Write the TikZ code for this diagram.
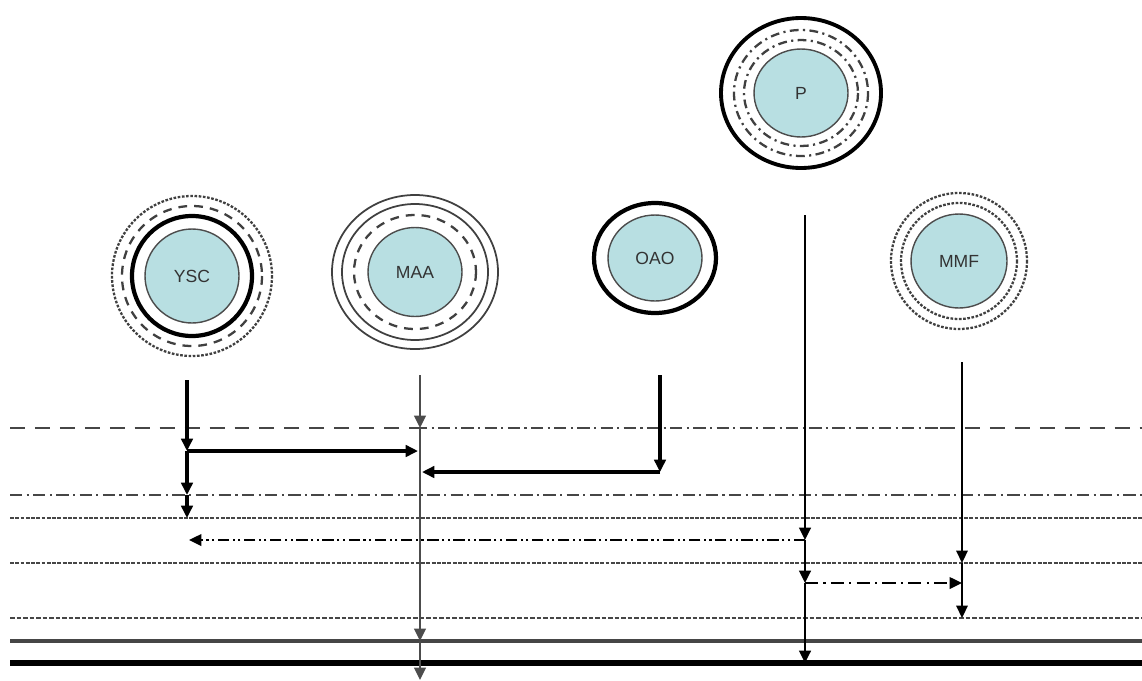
\documentclass[tikz,border=0pt]{standalone}
\usepackage{fontspec}
\setmainfont{Liberation Sans}
\usepackage{xcolor}
\usetikzlibrary{arrows.meta}
\usetikzlibrary{shapes.geometric}

\definecolor{cellblue}{RGB}{184,223,226}
\definecolor{levelgray}{RGB}{70,70,70}

\tikzset{
  >={Triangle[length=7pt,width=6.5pt]},
  cellcore/.style={ellipse, draw=black!70, line width=0.8pt, fill=cellblue, inner sep=0pt, font=\fontsize{10}{12}\selectfont, text=black!80},
  ringthick/.style={draw=black, line width=2.4pt},
  ringthin/.style={draw=black!75, line width=1pt},
  ringdash/.style={draw=black!75, line width=1.3pt, dash pattern=on 5pt off 4pt},
  ringdot/.style={draw=black!75, line width=1.3pt, dash pattern=on 1.5pt off 0.9pt},
  ringdashdot/.style={draw=black!75, line width=1.3pt, dash pattern=on 5pt off 2.5pt on 1.2pt off 2.5pt},
  levelline/.style={draw=levelgray, line width=1.3pt},
  leveldash/.style={levelline, dash pattern=on 8.5pt off 5.7pt},
  leveldashdot/.style={levelline, dash pattern=on 7pt off 2.5pt on 1.2pt off 2.5pt},
  levelfine/.style={levelline, dash pattern=on 2.2pt off 0.8pt},
  flowline/.style={->, draw=black},
}

\begin{document}
\begin{tikzpicture}[x=0.02cm,y=-0.02cm]
        \newcommand{\figsigleft}{10}
        \newcommand{\figsigright}{1142}
        \newcommand{\figsigyscx}{187}
        \newcommand{\figsigmaax}{420}
        \newcommand{\figsigoaox}{660}
        \newcommand{\figsigpcx}{805}
        \newcommand{\figsigmmfx}{962}
        \newcommand{\figsiglevela}{428}
        \newcommand{\figsiglevelb}{495}
        \newcommand{\figsiglevelc}{518}
        \newcommand{\figsigleveld}{563}
        \newcommand{\figsiglevele}{618}
        \newcommand{\figsiglevelf}{641}
        \newcommand{\figsiglevelg}{663}
        \useasboundingbox (0,0) rectangle (1142,680);
        % cells
        \node[cellcore, minimum width=1.88cm, minimum height=1.88cm] (ysc) at (192,276) {YSC};
        \draw[ringthick] (ysc) circle (60);
        \draw[ringdash] (ysc) circle (70);
        \draw[ringdot] (ysc) circle (80);
        \node[cellcore, minimum width=1.88cm, minimum height=1.78cm] (maa) at (415,272) {MAA};
        \draw[ringdash] (maa) ellipse (61 and 57);
        \draw[ringthin] (maa) ellipse (73 and 68);
        \draw[ringthin] (maa) ellipse (83 and 77);
        \node[cellcore, minimum width=1.88cm, minimum height=1.72cm] (oao) at (655,258) {OAO};
        \draw[ringthick] (oao) ellipse (61 and 55);
        \node[cellcore, minimum width=1.88cm, minimum height=1.76cm] (pcell) at (801,93) {P};
        \draw[ringdashdot] (pcell) ellipse (57 and 53);
        \draw[ringdashdot] (pcell) ellipse (67 and 63);
        \draw[ringthick, line width=2.2pt] (pcell) ellipse (80 and 75);
        \node[cellcore, minimum width=1.92cm, minimum height=1.88cm] (mmf) at (959,261) {MMF};
        \draw[ringdot] (mmf) circle (58);
        \draw[ringdot] (mmf) circle (68);
        % levels
        \coordinate (lvlaw) at (\figsigleft,\figsiglevela);
        \coordinate (lvlam) at (415,\figsiglevela);
        \coordinate (lvlan) at (940,\figsiglevela);
        \coordinate (lvlae) at (\figsigright,\figsiglevela);
        \draw[leveldash] (lvlaw) -- (lvlam);
        \draw[leveldashdot] (lvlam) -- (lvlan);
        \draw[leveldash] (lvlan) -- (lvlae);
        \coordinate (lvlbw) at (\figsigleft,\figsiglevelb);
        \coordinate (lvlbe) at (\figsigright,\figsiglevelb);
        \draw[leveldashdot] (lvlbw) -- (lvlbe);
        \coordinate (lvlcw) at (\figsigleft,\figsiglevelc);
        \coordinate (lvlce) at (\figsigright,\figsiglevelc);
        \draw[levelfine] (lvlcw) -- (lvlce);
        \coordinate (lvldw) at (\figsigleft,\figsigleveld);
        \coordinate (lvlde) at (\figsigright,\figsigleveld);
        \draw[levelfine] (lvldw) -- (lvlde);
        \coordinate (lvlew) at (\figsigleft,\figsiglevele);
        \coordinate (lvlee) at (\figsigright,\figsiglevele);
        \draw[levelfine, dash pattern=on 2.6pt off 1.1pt] (lvlew) -- (lvlee);
        \coordinate (lvlfw) at (\figsigleft,\figsiglevelf);
        \coordinate (lvlfe) at (\figsigright,\figsiglevelf);
        \draw[levelline, line width=1.8pt] (lvlfw) -- (lvlfe);
        \coordinate (lvlgw) at (\figsigleft,\figsiglevelg);
        \coordinate (lvlge) at (\figsigright,\figsiglevelg);
        \draw[draw=black, line width=3pt] (lvlgw) -- (lvlge);
        % YSC flow
        \coordinate (yscs) at (\figsigyscx,380);
        \coordinate (ysca) at (\figsigyscx,451);
        \coordinate (yscb) at (\figsigyscx,\figsiglevelb);
        \coordinate (yscc) at (\figsigyscx,\figsiglevelc);
        \draw[flowline, line width=1.8pt] (yscs) -- (ysca);
        \draw[flowline, line width=1.8pt] (ysca) -- (yscb);
        \draw[flowline, line width=1.8pt] (yscb) -- (yscc);
        \coordinate (maajoin) at (\figsigmaax-2,451);
        \draw[flowline, line width=2.4pt] (ysca) -- (maajoin);
        % MAA flow
        \coordinate (maas) at (\figsigmaax,375);
        \coordinate (maaa) at (\figsigmaax,\figsiglevela);
        \coordinate (maaf) at (\figsigmaax,\figsiglevelf);
        \coordinate (maaend) at (\figsigmaax,680);
        \draw[flowline, draw=black!70, line width=1.4pt] (maas) -- (maaa);
        \draw[flowline, draw=black!70, line width=1.4pt] (maaa) -- (maaf);
        \draw[flowline, draw=black!70, line width=1.4pt] (maaf) -- (maaend);
        % OAO flow
        \coordinate (oaos) at (\figsigoaox,375);
        \coordinate (oaoa) at (\figsigoaox,472);
        \coordinate (oaojoin) at (\figsigmaax+2,472);
        \draw[flowline, line width=1.8pt] (oaos) -- (oaoa);
        \draw[flowline, line width=2.2pt] (oaoa) -- (oaojoin);
        % P flow
        \coordinate (pcs) at (\figsigpcx,215);
        \coordinate (pca) at (\figsigpcx,540);
        \coordinate (pcb) at (\figsigpcx,583);
        \coordinate (pcg) at (\figsigpcx,\figsiglevelg);
        \draw[flowline, line width=1.6pt] (pcs) -- (pca);
        \draw[flowline, line width=1.6pt] (pca) -- (pcb);
        \draw[flowline, line width=1.6pt] (pcb) -- (pcg);
        \coordinate (yscback) at (\figsigyscx+2,540);
        \draw[flowline, line width=1.2pt, dash pattern=on 6.5pt off 2pt on 1.2pt off 2pt on 1.2pt off 2pt] (pca) -- (yscback);
        \coordinate (mmfjoin) at (\figsigmmfx,583);
        \draw[flowline, line width=1.2pt, dash pattern=on 7.5pt off 3pt on 1.2pt off 3pt] (pcb) -- (mmfjoin);
        % MMF flow
        \coordinate (mmfs) at (\figsigmmfx,362);
        \coordinate (mmfd) at (\figsigmmfx,\figsigleveld);
        \coordinate (mmfe) at (\figsigmmfx,\figsiglevele);
        \draw[flowline, line width=0.9pt] (mmfs) -- (mmfd);
        \draw[flowline, line width=0.9pt] (mmfd) -- (mmfe);
\end{tikzpicture}
\end{document}
